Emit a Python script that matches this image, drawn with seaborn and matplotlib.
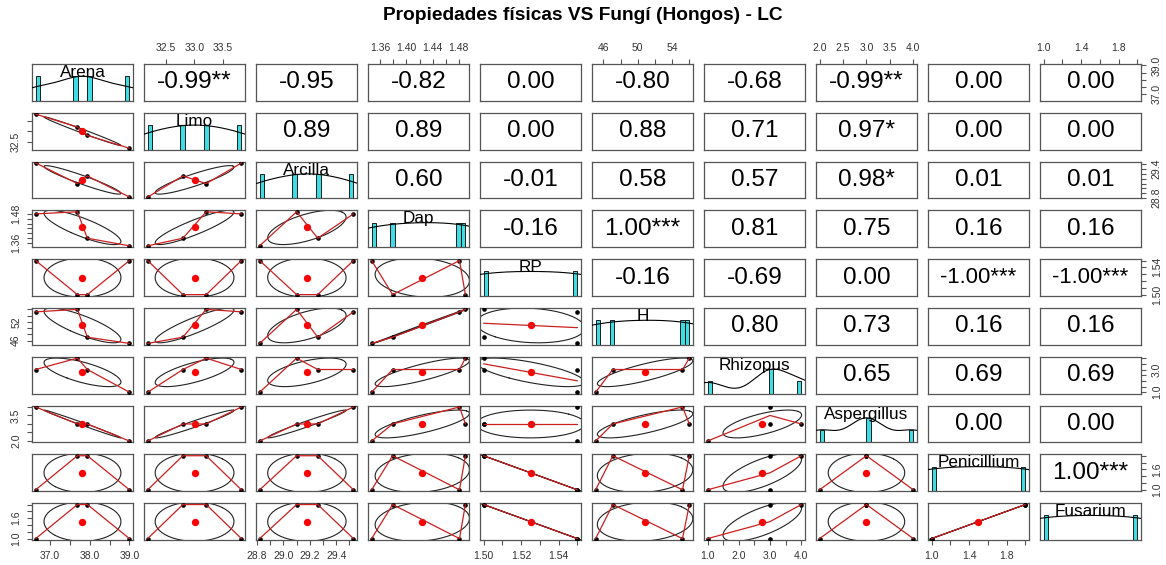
import numpy as np
import pandas as pd
import matplotlib
matplotlib.use("Agg")
import matplotlib.pyplot as plt
import seaborn as sns
from matplotlib.textpath import TextPath
from matplotlib.font_manager import FontProperties

# ---------------------------------------------------------------- data
variables = ["Arena", "Limo", "Arcilla", "Dap", "RP", "H",
             "Rhizopus", "Aspergillus", "Penicillium", "Fusarium"]

arena = [36.64, 37.69, 37.94, 39.00]
limo = [33.83, 33.21, 32.80, 32.18]
arcilla = [29.53, 29.10, 29.26, 28.82]
dap = [1.481, 1.490, 1.379, 1.347]
rp = [1.55, 1.50, 1.50, 1.55]
h = [55.2, 56.0, 47.1, 45.1]
rhizopus = [3, 4, 3, 1]
aspergillus = [4, 3, 3, 2]
penicillium = [1, 2, 2, 1]
fusarium = [1, 2, 2, 1]

# correlation labels of the upper triangle, row by row
cor_labels = [
    "-0.99**", "-0.95", "-0.82", "0.00", "-0.80", "-0.68", "-0.99**", "0.00", "0.00",
    "0.89", "0.89", "0.00", "0.88", "0.71", "0.97*", "0.00", "0.00",
    "0.60", "-0.01", "0.58", "0.57", "0.98*", "0.01", "0.01",
    "-0.16", "1.00***", "0.81", "0.75", "0.16", "0.16",
    "-0.16", "-0.69", "0.00", "-1.00***", "-1.00***",
    "0.80", "0.73", "0.16", "0.16",
    "0.65", "0.69", "0.69",
    "0.00", "0.00",
    "1.00***",
]

axis_ticks = [
    [37.0, 37.5, 38.0, 38.5, 39.0],
    [32.5, 33.0, 33.5],
    [28.8, 28.9, 29.0, 29.1, 29.2, 29.3, 29.4, 29.5],
    [1.36, 1.38, 1.40, 1.42, 1.44, 1.46, 1.48],
    [1.50, 1.51, 1.52, 1.53, 1.54, 1.55],
    [46, 48, 50, 52, 54, 56],
    [1.0, 1.5, 2.0, 2.5, 3.0, 3.5, 4.0],
    [2.0, 2.5, 3.0, 3.5, 4.0],
    [1.0, 1.2, 1.4, 1.6, 1.8, 2.0],
    [1.0, 1.2, 1.4, 1.6, 1.8, 2.0],
]
x_tick_labels = [
    ["37.0", "", "38.0", "", "39.0"],
    ["32.5", "33.0", "33.5"],
    ["28.8", "", "29.0", "", "29.2", "", "29.4", ""],
    ["1.36", "", "1.40", "", "1.44", "", "1.48"],
    ["1.50", "", "1.52", "", "1.54", ""],
    ["46", "", "50", "", "54", ""],
    ["1.0", "", "2.0", "", "3.0", "", "4.0"],
    ["2.0", "2.5", "3.0", "3.5", "4.0"],
    ["1.0", "", "1.4", "", "1.8", ""],
    ["1.0", "", "1.4", "", "1.8", ""],
]
y_tick_labels = [
    ["37.0", "", "", "", "39.0"],
    ["32.5", "", ""],
    ["28.8", "", "", "", "", "", "29.4", ""],
    ["1.36", "", "", "", "", "", "1.48"],
    ["1.50", "", "", "", "1.54", ""],
    ["46", "", "", "52", "", ""],
    ["1.0", "", "", "", "3.0", "", ""],
    ["2.0", "", "", "3.5", ""],
    ["1.0", "", "", "1.6", "", ""],
    ["1.0", "", "", "1.6", "", ""],
]

title = "Propiedades físicas VS Fungí (Hongos) - LC"

# ---------------------------------------------------------------- style
sns.set_style("white")
plt.rcParams["font.family"] = ["Liberation Sans", "DejaVu Sans"]

HIST_COLOR = "#3fdde3"
SMOOTH_COLOR = "#cc1f1f"
FRAME_COLOR = "#555555"
DENSITY_ADJUST = 1.4

data = pd.DataFrame(dict(zip(variables, [arena, limo, arcilla, dap, rp, h,
                                         rhizopus, aspergillus, penicillium,
                                         fusarium])), dtype=float)
n_var = len(variables)


def padded(v):
    lo, hi = float(np.min(v)), float(np.max(v))
    pad = 0.04 * (hi - lo)
    return lo - pad, hi + pad


def lowess(x, y, f=2 / 3):
    """Locally weighted linear fit (tricube weights), evaluated at each x."""
    order = np.argsort(x, kind="mergesort")
    xs, ys = x[order], y[order]
    n = len(xs)
    ns = max(min(int(round(f * n)), n), 2)
    span = xs[-1] - xs[0]
    fit = np.empty(n)
    for i in range(n):
        d = np.abs(xs - xs[i])
        hh = np.sort(d)[ns - 1]
        if hh > 0:
            r = d / hh
            w = np.where(r <= 0.999, (1 - np.clip(r, 0, 1) ** 3) ** 3, 0.0)
            w[r <= 0.001] = 1.0
        else:
            w = (d == 0).astype(float)
        w = w / w.sum()
        a = np.sum(w * xs)
        b = np.sum(w * (xs - a) ** 2)
        if np.sqrt(b) > 0.001 * span:
            slope = np.sum(w * (xs - a) * ys) / b
            fit[i] = np.sum(w * ys) + slope * (xs[i] - a)
        else:
            fit[i] = np.sum(w * ys)
    return xs, fit


def density_curve(v):
    v = np.asarray(v, float)
    sd = v.std(ddof=1)
    iqr = np.subtract(*np.percentile(v, [75, 25]))
    lo = min(sd, iqr / 1.34) if iqr > 0 else sd
    bw = DENSITY_ADJUST * 0.9 * lo * len(v) ** -0.2
    grid = np.linspace(v.min() - 3 * bw, v.max() + 3 * bw, 512)
    dens = np.exp(-0.5 * ((grid[:, None] - v[None, :]) / bw) ** 2).sum(axis=1)
    return grid, dens / dens.max()


def ellipse_path(xm, ym, xs, ys, r, segments=51):
    ang = np.arange(segments + 1) * 2 * np.pi / segments
    circle = np.column_stack([np.cos(ang), np.sin(ang)])
    r = float(np.clip(r, -1, 1))
    theta = np.sign(r) / np.sqrt(2) if abs(r) > 0 else 1 / np.sqrt(2)
    shape = np.diag([np.sqrt(1 + r), np.sqrt(max(1 - r, 0))]) @ np.array(
        [[theta, theta], [-theta, theta]])
    e = circle @ shape
    return e[:, 0] * xs + xm, e[:, 1] * ys + ym


fp = FontProperties(family="Liberation Sans")


def text_width(s):
    return TextPath((0, 0), s, size=1, prop=fp).get_extents().width


COR_SIZE = 17.6
ref_width = text_width("0.12***")

# ---------------------------------------------------------------- figure
fig = plt.figure(figsize=(11.66, 5.65), dpi=100)
gs = fig.add_gridspec(n_var, n_var, left=0.0274, right=0.9786,
                      top=0.8867, bottom=0.0443, wspace=0.106, hspace=0.326)

labels_iter = iter(cor_labels)
for i in range(n_var):
    for j in range(n_var):
        ax = fig.add_subplot(gs[i, j])
        xv = data.iloc[:, j].to_numpy()
        yv = data.iloc[:, i].to_numpy()
        ax.set_xlim(padded(xv))

        if i == j:
            ax.set_ylim(0, 1.5)
            lo, hi = xv.min(), xv.max()
            counts, edges = np.histogram(xv, bins=np.linspace(lo, hi, 21))
            keep = counts > 0
            ax.bar(edges[:-1][keep], counts[keep] / counts.max(),
                   width=np.diff(edges)[keep], align="edge",
                   color=HIST_COLOR, edgecolor="black", linewidth=0.6, zorder=2)
            gx, gy = density_curve(xv)
            sns.lineplot(x=gx, y=gy, ax=ax, color="black", linewidth=0.8,
                         sort=False, estimator=None, zorder=3)
            ax.text(0.5, 0.647, variables[i], transform=ax.transAxes,
                    ha="center", va="baseline", fontsize=12.3, color="black",
                    zorder=4)
        elif i < j:
            ax.set_ylim(padded(yv))
            label = next(labels_iter)
            size = COR_SIZE * min(1.0, ref_width / text_width(label))
            ax.text(0.5, 0.5, label, transform=ax.transAxes, ha="center",
                    va="center", fontsize=size, color="black")
        else:
            ax.set_ylim(padded(yv))
            sns.scatterplot(x=xv, y=yv, ax=ax, color="black", s=11,
                            linewidth=0, zorder=3)
            r = np.corrcoef(xv, yv)[0, 1]
            ex, ey = ellipse_path(xv.mean(), yv.mean(), xv.std(ddof=1),
                                  yv.std(ddof=1), r)
            ax.plot(ex, ey, color="#222222", linewidth=0.8, zorder=2)
            ax.scatter([xv.mean()], [yv.mean()], s=28, color="red",
                       linewidths=0, zorder=4)
            sx, sy = lowess(xv, yv)
            sns.lineplot(x=sx, y=sy, ax=ax, color=SMOOTH_COLOR, linewidth=0.9,
                         sort=False, estimator=None, zorder=5)

        # frame and outer axes
        for sp in ax.spines.values():
            sp.set_color(FRAME_COLOR)
            sp.set_linewidth(0.9)
        ax.set_xlabel("")
        ax.set_ylabel("")

        show_top = i == 0 and j % 2 == 1
        show_bottom = i == n_var - 1 and j % 2 == 0
        show_right = j == n_var - 1 and i % 2 == 0
        show_left = j == 0 and i % 2 == 1

        if show_top or show_bottom:
            ax.set_xticks(axis_ticks[j])
            ax.set_xticklabels(x_tick_labels[j])
        else:
            ax.set_xticks([])
        if show_left or show_right:
            ax.set_yticks(axis_ticks[i])
            ax.set_yticklabels(y_tick_labels[i])
        else:
            ax.set_yticks([])

        ax.tick_params(axis="both", which="both", direction="out", length=3.8,
                       width=0.8, color=FRAME_COLOR, labelsize=7.5,
                       labelcolor="#333333", pad=4.0,
                       top=show_top, labeltop=show_top,
                       bottom=show_bottom, labelbottom=show_bottom,
                       left=show_left, labelleft=show_left,
                       right=show_right, labelright=show_right)
        if show_left or show_right:
            ax.tick_params(axis="y", labelrotation=90)
            for tk in ax.yaxis.get_major_ticks():
                tk.label1.set_va("center")
                tk.label2.set_va("center")

fig.text(0.5, 0.973, title, ha="center", va="center", fontsize=13.8,
         fontweight="bold", color="black")

fig.savefig("out.png", dpi=100, facecolor="white")
